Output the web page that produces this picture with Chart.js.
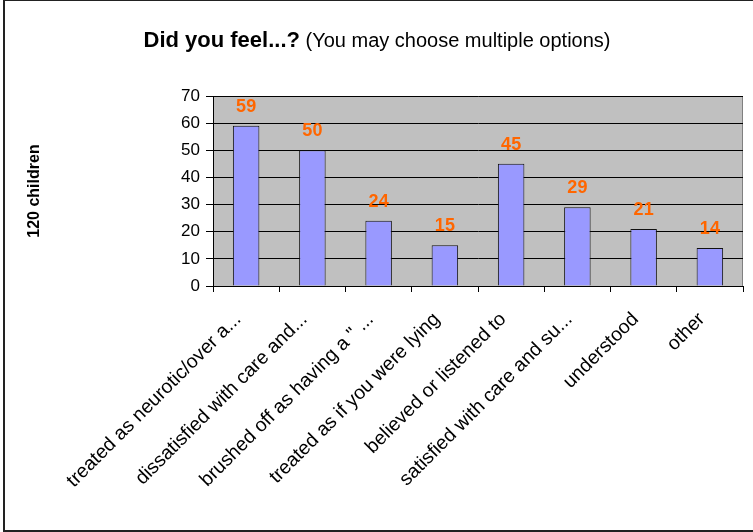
<!DOCTYPE html>
<html>
<head>
<meta charset="utf-8">
<script src="https://cdn.jsdelivr.net/npm/chart.js@4"></script>
<style>
  html, body { margin: 0; padding: 0; background: #fff; }
  canvas { display: block; }
</style>
</head>
<body>
<canvas id="chart" width="753" height="532"></canvas>
<script>
// ===========================
// Data
// ===========================
const CATEGORIES = [
  'treated as neurotic/over a...',
  'dissatisfied with care and...',
  'brushed off as having a " ...',
  'treated as if you were lying',
  'believed or listened to',
  'satisfied with care and su...',
  'understood',
  'other'
];
const COUNTS = [59, 50, 24, 15, 45, 29, 21, 14];
const Y_MIN = 0, Y_MAX = 70, Y_STEP = 10;

const TITLE_BOLD = 'Did you feel...?';
const TITLE_REST = ' (You may choose multiple options)';
const Y_TITLE = '120 children';

const FONT = "'Liberation Sans', Arial, sans-serif";
const BAR_FILL = '#9999FF';
const LABEL_COLOR = '#FF6600';

// ===========================
// Plugins
// ===========================
const frame = {
  id: 'frame',
  beforeDraw(chart) {
    const { ctx, chartArea: a } = chart;
    ctx.save();
    ctx.fillStyle = '#fff';
    ctx.fillRect(0, 0, chart.width, chart.height);
    // outer border
    ctx.fillStyle = '#222';
    ctx.fillRect(3, 0, 2, chart.height);
    ctx.fillRect(3, 0, chart.width, 1);
    ctx.fillRect(3, chart.height - 2, chart.width, 2);
    // plot area
    ctx.fillStyle = '#C0C0C0';
    ctx.fillRect(a.left, a.top, a.right - a.left, a.bottom - a.top);
    ctx.strokeStyle = '#808080';
    ctx.lineWidth = 1;
    ctx.strokeRect(a.left + 0.5, a.top + 0.5, a.right - a.left - 1, a.bottom - a.top);
    ctx.restore();
  },
  afterDraw(chart) {
    const { ctx, chartArea: a } = chart;
    ctx.save();
    // title, bold part + normal part
    ctx.fillStyle = '#000';
    ctx.textBaseline = 'alphabetic';
    ctx.font = 'bold 22px ' + FONT;
    const w1 = ctx.measureText(TITLE_BOLD).width;
    ctx.font = '20px ' + FONT;
    const w2 = ctx.measureText(TITLE_REST).width;
    const x = 377 - (w1 + w2) / 2;
    ctx.font = 'bold 22px ' + FONT;
    ctx.fillText(TITLE_BOLD, x, 47);
    ctx.font = '20px ' + FONT;
    ctx.fillText(TITLE_REST, x + w1, 47);
    // y axis title
    ctx.translate(35, (a.top + a.bottom) / 2);
    ctx.rotate(-Math.PI / 2);
    ctx.font = 'bold 16px ' + FONT;
    ctx.textAlign = 'center';
    ctx.textBaseline = 'middle';
    ctx.fillText(Y_TITLE, 0, 0);
    ctx.restore();

    // value labels above bars
    const meta = chart.getDatasetMeta(0);
    ctx.save();
    ctx.font = 'bold 18px ' + FONT;
    ctx.fillStyle = LABEL_COLOR;
    ctx.textAlign = 'center';
    ctx.textBaseline = 'middle';
    meta.data.forEach((bar, i) => {
      ctx.fillText(String(COUNTS[i]), bar.x, bar.y - 19);
    });
    ctx.restore();
  }
};

// ===========================
// Chart
// ===========================
new Chart(document.getElementById('chart'), {
  type: 'bar',
  data: {
    labels: CATEGORIES,
    datasets: [{
      data: COUNTS,
      backgroundColor: BAR_FILL,
      borderColor: '#111',
      borderWidth: 1,
      categoryPercentage: 1,
      barPercentage: 0.4
    }]
  },
  options: {
    responsive: false,
    animation: false,
    devicePixelRatio: 1,
    layout: { padding: { top: 96, right: 10, left: 0, bottom: 0 } },
    plugins: { legend: { display: false }, tooltip: { enabled: false } },
    scales: {
      x: {
        afterFit(scale) { scale.height = 246; },
        grid: { offset: true, drawOnChartArea: false, drawTicks: true, tickLength: 6, color: '#000' },
        border: { color: '#000' },
        ticks: {
          autoSkip: false, minRotation: 45, maxRotation: 45,
          color: '#000', padding: 16, labelOffset: -8,
          font: { family: FONT, size: 19.5 }
        }
      },
      y: {
        min: Y_MIN, max: Y_MAX,
        afterFit(scale) { scale.width = 213; },
        grid: { color: '#000', tickLength: 7 },
        border: { color: '#000' },
        ticks: {
          stepSize: Y_STEP, color: '#000', padding: 6,
          font: { family: FONT, size: 17 }
        }
      }
    }
  },
  plugins: [frame]
});
</script>
</body>
</html>
